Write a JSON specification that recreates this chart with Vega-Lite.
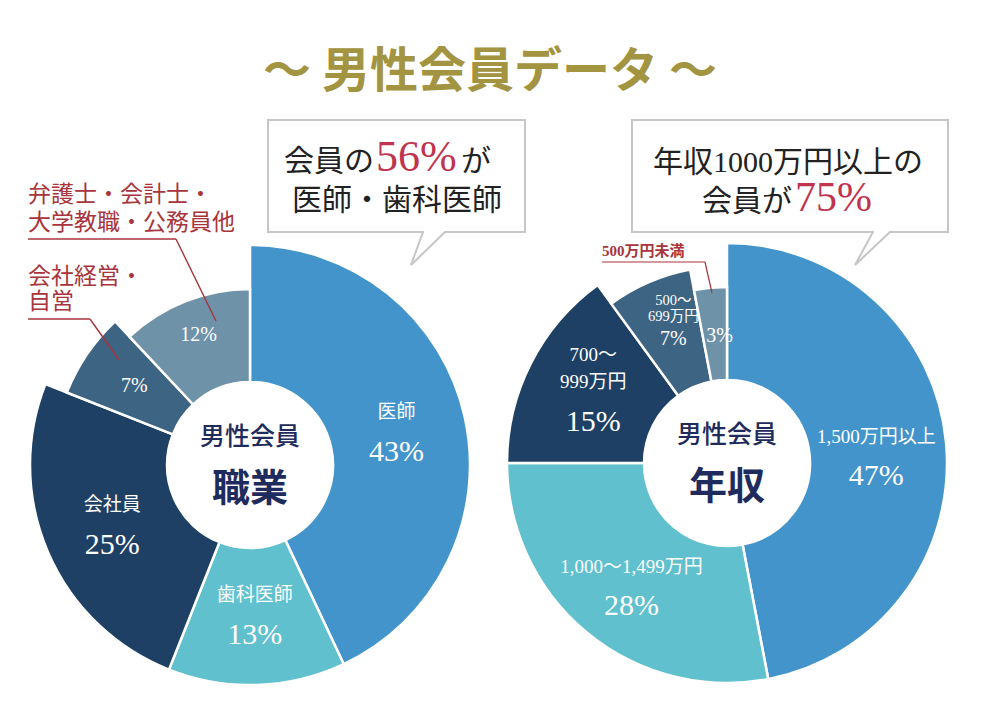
{
  "$schema": "https://vega.github.io/schema/vega-lite/v6.json",
  "width": 1000,
  "height": 720,
  "autosize": {"type": "fit", "contains": "padding"},
  "padding": 0,
  "background": "#ffffff",
  "config": {"view": {"stroke": null}, "axis": {"disable": true}, "text": {"font": "Noto Sans CJK JP"}},
  "datasets": {
    "slices": [
      {"chart": "職業", "k": 1, "name": "医師", "share": 0.43},
      {"chart": "職業", "k": 2, "name": "歯科医師", "share": 0.13},
      {"chart": "職業", "k": 3, "name": "会社員", "share": 0.25},
      {"chart": "職業", "k": 4, "name": "会社経営・自営", "share": 0.07},
      {"chart": "職業", "k": 5, "name": "弁護士・会計士・大学教職・公務員他", "share": 0.12},
      {"chart": "年収", "k": 1, "name": "1,500万円以上", "share": 0.47},
      {"chart": "年収", "k": 2, "name": "1,000〜1,499万円", "share": 0.28},
      {"chart": "年収", "k": 3, "name": "700〜\n999万円", "share": 0.15},
      {"chart": "年収", "k": 4, "name": "500〜\n699万円", "share": 0.07},
      {"chart": "年収", "k": 5, "name": "500万円未満", "share": 0.03}
    ]
  },
  "resolve": {"scale": {"x": "independent", "y": "independent"}},
  "layer": [
    {
      "data": {"name": "slices"},
      "encoding": {
        "x": {"field": "chart", "type": "nominal", "scale": {"type": "point", "domain": ["職業", "年収"], "range": [250, 727], "padding": 0}, "axis": null},
        "y": {"field": "chart", "type": "nominal", "scale": {"type": "point", "domain": ["職業", "年収"], "range": [465, 463], "padding": 0}, "axis": null}
      },
      "layer": [
        {
          "transform": [{"stack": "share", "groupby": ["chart"], "sort": [{"field": "k", "order": "ascending"}], "as": ["t0", "t1"]}],
          "mark": {"type": "arc", "radius2": 83, "stroke": "#ffffff", "strokeWidth": 2.5},
          "encoding": {
            "theta": {"field": "t0", "type": "quantitative", "scale": {"domain": [0, 1]}},
            "theta2": {"field": "t1"},
            "radius": {"field": "k", "type": "quantitative", "scale": {"type": "linear", "domain": [1, 3, 4, 5], "range": [220, 220, 197, 176]}},
            "color": {"field": "k", "type": "nominal", "scale": {"domain": [1, 2, 3, 4, 5], "range": ["#4494cc", "#60c0ce", "#1e4064", "#3e6484", "#6e92a8"]}, "legend": null}
          }
        },
        {
          "transform": [{"filter": "datum.chart == '職業'"}],
          "mark": {"type": "text", "radius": 150, "dy": -20, "fontSize": 19, "color": "#ffffff", "font": "'Liberation Serif', 'Noto Sans CJK JP'", "align": "center", "baseline": "middle"},
          "encoding": {
            "theta": {"field": "share", "type": "quantitative", "stack": true, "scale": {"domain": [0, 1]}},
            "order": {"field": "k", "type": "quantitative"},
            "text": {"condition": {"test": "datum.k <= 3", "field": "name", "type": "nominal"}, "value": ""}
          }
        },
        {
          "transform": [{"filter": "datum.chart == '職業'"}],
          "mark": {"type": "text", "radius": 150, "dy": 20, "fontSize": 30, "color": "#ffffff", "font": "'Liberation Serif', 'Noto Sans CJK JP'", "align": "center", "baseline": "middle"},
          "encoding": {
            "theta": {"field": "share", "type": "quantitative", "stack": true, "scale": {"domain": [0, 1]}},
            "order": {"field": "k", "type": "quantitative"},
            "text": {"condition": {"test": "datum.k <= 3", "field": "share", "type": "quantitative", "format": ".0%"}, "value": ""}
          }
        },
        {
          "transform": [{"filter": "datum.chart == '職業'"}],
          "mark": {"type": "text", "radius": 140, "fontSize": 20, "color": "#ffffff", "font": "'Liberation Serif', 'Noto Sans CJK JP'", "align": "center", "baseline": "middle"},
          "encoding": {
            "theta": {"field": "share", "type": "quantitative", "stack": true, "scale": {"domain": [0, 1]}},
            "order": {"field": "k", "type": "quantitative"},
            "text": {"condition": {"test": "datum.k >= 4", "field": "share", "type": "quantitative", "format": ".0%"}, "value": ""}
          }
        },
        {
          "transform": [{"filter": "datum.chart == '年収'"}],
          "mark": {"type": "text", "radius": 150, "dy": -12, "fontSize": 19, "color": "#ffffff", "font": "'Liberation Serif', 'Noto Sans CJK JP'", "align": "center", "baseline": "middle"},
          "encoding": {
            "theta": {"field": "share", "type": "quantitative", "stack": true, "scale": {"domain": [0, 1]}},
            "order": {"field": "k", "type": "quantitative"},
            "text": {"condition": {"test": "datum.k <= 2", "field": "name", "type": "nominal"}, "value": ""}
          }
        },
        {
          "transform": [{"filter": "datum.chart == '年収'"}],
          "mark": {"type": "text", "radius": 150, "dy": -40, "fontSize": 19, "color": "#ffffff", "font": "'Liberation Serif', 'Noto Sans CJK JP'", "align": "center", "baseline": "middle", "lineBreak": "\n", "lineHeight": 27},
          "encoding": {
            "theta": {"field": "share", "type": "quantitative", "stack": true, "scale": {"domain": [0, 1]}},
            "order": {"field": "k", "type": "quantitative"},
            "text": {"condition": {"test": "datum.k == 3", "field": "name", "type": "nominal"}, "value": ""}
          }
        },
        {
          "transform": [{"filter": "datum.chart == '年収'"}],
          "mark": {"type": "text", "radius": 150, "dy": 27, "fontSize": 30, "color": "#ffffff", "font": "'Liberation Serif', 'Noto Sans CJK JP'", "align": "center", "baseline": "middle"},
          "encoding": {
            "theta": {"field": "share", "type": "quantitative", "stack": true, "scale": {"domain": [0, 1]}},
            "order": {"field": "k", "type": "quantitative"},
            "text": {"condition": {"test": "datum.k <= 3", "field": "share", "type": "quantitative", "format": ".0%"}, "value": ""}
          }
        },
        {
          "transform": [{"filter": "datum.chart == '年収'"}],
          "mark": {"type": "text", "radius": 135, "fontSize": 20, "color": "#ffffff", "font": "'Liberation Serif', 'Noto Sans CJK JP'", "align": "center", "baseline": "middle"},
          "encoding": {
            "theta": {"field": "share", "type": "quantitative", "stack": true, "scale": {"domain": [0, 1]}},
            "order": {"field": "k", "type": "quantitative"},
            "text": {"condition": {"test": "datum.k == 4", "field": "share", "type": "quantitative", "format": ".0%"}, "value": ""}
          }
        },
        {
          "transform": [{"filter": "datum.chart == '年収'"}],
          "mark": {"type": "text", "radius": 132, "dx": 5, "dy": 4, "fontSize": 20, "color": "#ffffff", "font": "'Liberation Serif', 'Noto Sans CJK JP'", "align": "center", "baseline": "middle"},
          "encoding": {
            "theta": {"field": "share", "type": "quantitative", "stack": true, "scale": {"domain": [0, 1]}},
            "order": {"field": "k", "type": "quantitative"},
            "text": {"condition": {"test": "datum.k == 5", "field": "share", "type": "quantitative", "format": ".0%"}, "value": ""}
          }
        },
        {
          "transform": [{"filter": "datum.chart == '年収'"}],
          "mark": {"type": "text", "radius": 135, "dy": -38, "fontSize": 14.5, "color": "#ffffff", "font": "'Liberation Serif', 'Noto Sans CJK JP'", "align": "center", "baseline": "middle", "lineBreak": "\n", "lineHeight": 16},
          "encoding": {
            "theta": {"field": "share", "type": "quantitative", "stack": true, "scale": {"domain": [0, 1]}},
            "order": {"field": "k", "type": "quantitative"},
            "text": {"condition": {"test": "datum.k == 4", "field": "name", "type": "nominal"}, "value": ""}
          }
        },
        {
          "transform": [{"filter": "datum.k == 1"}],
          "mark": {"type": "text", "text": "男性会員", "dy": -28, "fontSize": 25, "fontWeight": 500, "color": "#1f2b5c", "font": "Noto Sans CJK JP", "align": "center", "baseline": "middle"}
        },
        {
          "transform": [{"filter": "datum.k == 1"}],
          "mark": {"type": "text", "dy": 25, "fontSize": 38, "fontWeight": "bold", "color": "#1f2b5c", "font": "Noto Sans CJK JP", "align": "center", "baseline": "middle"},
          "encoding": {"text": {"field": "chart", "type": "nominal"}}
        }
      ]
    },
    {
      "data": {"values": [{}]},
      "layer": [
        {
          "mark": {"type": "text", "text": "〜 男性会員データ 〜", "font": "Noto Sans CJK JP", "fontSize": 48, "fontWeight": "bold", "color": "#a29440", "align": "center", "baseline": "middle"},
          "encoding": {
            "x": {"datum": 490, "type": "quantitative", "scale": {"domain": [0, 1000], "nice": false, "zero": false}, "axis": null},
            "y": {"datum": 73, "type": "quantitative", "scale": {"domain": [0, 720], "nice": false, "zero": false, "reverse": true}, "axis": null}
          }
        },
        {
          "mark": {"type": "rect", "fill": "#ffffff", "stroke": "#c6c6c6", "strokeWidth": 2},
          "encoding": {"x": {"datum": 268}, "x2": {"datum": 525}, "y": {"datum": 120}, "y2": {"datum": 232}}
        },
        {
          "mark": {"type": "rect", "fill": "#ffffff", "stroke": "#c6c6c6", "strokeWidth": 2},
          "encoding": {"x": {"datum": 632}, "x2": {"datum": 948}, "y": {"datum": 120}, "y2": {"datum": 232}}
        },
        {
          "mark": {"type": "rule", "stroke": "#ffffff", "strokeWidth": 4},
          "encoding": {"x": {"datum": 424}, "x2": {"datum": 444}, "y": {"datum": 232}, "y2": {"datum": 232}}
        },
        {
          "mark": {"type": "rule", "stroke": "#ffffff", "strokeWidth": 4},
          "encoding": {"x": {"datum": 874}, "x2": {"datum": 889}, "y": {"datum": 232}, "y2": {"datum": 232}}
        },
        {
          "mark": {"type": "rule", "stroke": "#c6c6c6", "strokeWidth": 2},
          "encoding": {"x": {"datum": 423}, "x2": {"datum": 411}, "y": {"datum": 232}, "y2": {"datum": 265}}
        },
        {
          "mark": {"type": "rule", "stroke": "#c6c6c6", "strokeWidth": 2},
          "encoding": {"x": {"datum": 445}, "x2": {"datum": 411}, "y": {"datum": 232}, "y2": {"datum": 265}}
        },
        {
          "mark": {"type": "rule", "stroke": "#c6c6c6", "strokeWidth": 2},
          "encoding": {"x": {"datum": 873}, "x2": {"datum": 855}, "y": {"datum": 232}, "y2": {"datum": 265}}
        },
        {
          "mark": {"type": "rule", "stroke": "#c6c6c6", "strokeWidth": 2},
          "encoding": {"x": {"datum": 890}, "x2": {"datum": 855}, "y": {"datum": 232}, "y2": {"datum": 265}}
        },
        {
          "mark": {"type": "rule", "stroke": "#a8343c", "strokeWidth": 1.4},
          "encoding": {"x": {"datum": 28}, "x2": {"datum": 176}, "y": {"datum": 239}, "y2": {"datum": 239}}
        },
        {
          "mark": {"type": "rule", "stroke": "#a8343c", "strokeWidth": 1.4},
          "encoding": {"x": {"datum": 176}, "x2": {"datum": 216}, "y": {"datum": 239}, "y2": {"datum": 321}}
        },
        {
          "mark": {"type": "rule", "stroke": "#a8343c", "strokeWidth": 1.4},
          "encoding": {"x": {"datum": 28}, "x2": {"datum": 90}, "y": {"datum": 319}, "y2": {"datum": 319}}
        },
        {
          "mark": {"type": "rule", "stroke": "#a8343c", "strokeWidth": 1.4},
          "encoding": {"x": {"datum": 90}, "x2": {"datum": 119}, "y": {"datum": 319}, "y2": {"datum": 360}}
        },
        {
          "mark": {"type": "rule", "stroke": "#a8343c", "strokeWidth": 1.2},
          "encoding": {"x": {"datum": 602}, "x2": {"datum": 705}, "y": {"datum": 262}, "y2": {"datum": 262}}
        },
        {
          "mark": {"type": "rule", "stroke": "#a8343c", "strokeWidth": 1.2},
          "encoding": {"x": {"datum": 705}, "x2": {"datum": 712}, "y": {"datum": 262}, "y2": {"datum": 293}}
        },
        {
          "mark": {"type": "text", "text": "会員の", "font": "Noto Sans CJK JP", "fontSize": 30, "color": "#222222", "align": "right", "baseline": "alphabetic"},
          "encoding": {"x": {"datum": 374}, "y": {"datum": 171}}
        },
        {
          "mark": {"type": "text", "text": "56%", "font": "Liberation Serif", "fontSize": 44, "color": "#c0344f", "align": "left", "baseline": "alphabetic"},
          "encoding": {"x": {"datum": 376}, "y": {"datum": 171}}
        },
        {
          "mark": {"type": "text", "text": "が", "font": "Noto Sans CJK JP", "fontSize": 30, "color": "#222222", "align": "left", "baseline": "alphabetic"},
          "encoding": {"x": {"datum": 461}, "y": {"datum": 171}}
        },
        {
          "mark": {"type": "text", "text": "医師・歯科医師", "font": "Noto Sans CJK JP", "fontSize": 30, "color": "#222222", "align": "left", "baseline": "alphabetic"},
          "encoding": {"x": {"datum": 292}, "y": {"datum": 210}}
        },
        {
          "mark": {"type": "text", "text": "年収1000万円以上の", "font": "'Liberation Serif', 'Noto Sans CJK JP'", "fontSize": 30, "color": "#222222", "align": "center", "baseline": "alphabetic"},
          "encoding": {"x": {"datum": 788}, "y": {"datum": 172}}
        },
        {
          "mark": {"type": "text", "text": "会員が", "font": "Noto Sans CJK JP", "fontSize": 30, "color": "#222222", "align": "right", "baseline": "alphabetic"},
          "encoding": {"x": {"datum": 792}, "y": {"datum": 211}}
        },
        {
          "mark": {"type": "text", "text": "75%", "font": "Liberation Serif", "fontSize": 42, "color": "#c0344f", "align": "left", "baseline": "alphabetic"},
          "encoding": {"x": {"datum": 795}, "y": {"datum": 211}}
        },
        {
          "mark": {"type": "text", "text": "弁護士・会計士・", "font": "Noto Sans CJK JP", "fontSize": 23, "color": "#a8343c", "align": "left", "baseline": "middle"},
          "encoding": {"x": {"datum": 28}, "y": {"datum": 195}}
        },
        {
          "mark": {"type": "text", "text": "大学教職・公務員他", "font": "Noto Sans CJK JP", "fontSize": 23, "color": "#a8343c", "align": "left", "baseline": "middle"},
          "encoding": {"x": {"datum": 28}, "y": {"datum": 223}}
        },
        {
          "mark": {"type": "text", "text": "会社経営・", "font": "Noto Sans CJK JP", "fontSize": 23, "color": "#a8343c", "align": "left", "baseline": "middle"},
          "encoding": {"x": {"datum": 28}, "y": {"datum": 277}}
        },
        {
          "mark": {"type": "text", "text": "自営", "font": "Noto Sans CJK JP", "fontSize": 23, "color": "#a8343c", "align": "left", "baseline": "middle"},
          "encoding": {"x": {"datum": 28}, "y": {"datum": 302}}
        },
        {
          "mark": {"type": "text", "text": "500万円未満", "font": "'Liberation Serif', 'Noto Sans CJK JP'", "fontSize": 15, "fontWeight": "bold", "color": "#a8343c", "align": "left", "baseline": "middle"},
          "encoding": {"x": {"datum": 602}, "y": {"datum": 251}}
        }
      ]
    }
  ]
}
